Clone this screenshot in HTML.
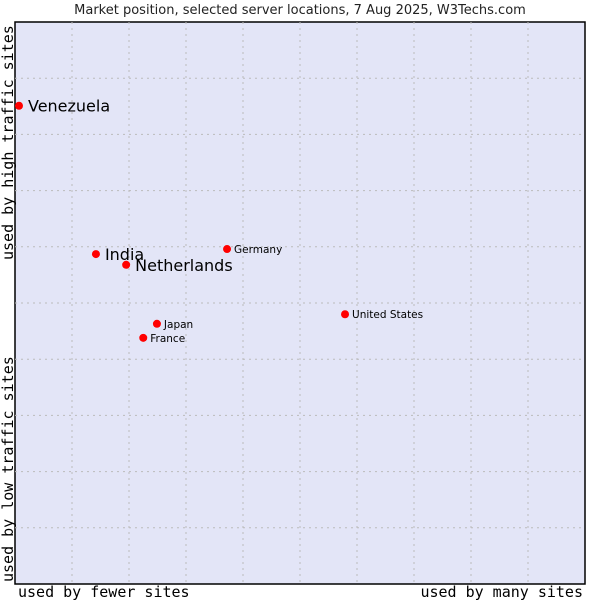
<!DOCTYPE html>
<html><head><meta charset="utf-8"><style>
body{margin:0;background:#fff;}
svg{display:block;}
</style></head><body>
<svg id="chart" width="600" height="600" xmlns="http://www.w3.org/2000/svg">
<text x="300" y="14" text-anchor="middle" font-family="DejaVu Sans, sans-serif" font-size="13" fill="#222">Market position, selected server locations, 7 Aug 2025, W3Techs.com</text>
<rect x="15" y="22" width="570" height="562" fill="#e3e5f7" stroke="#000" stroke-width="1.5"/>
<g id="grid"></g>
<g id="points"></g>
<text x="18" y="597" font-family="DejaVu Sans Mono, monospace" font-size="15" fill="#000">used by fewer sites</text>
<text x="583" y="597" text-anchor="end" font-family="DejaVu Sans Mono, monospace" font-size="15" fill="#000">used by many sites</text>
<text transform="translate(13,582) rotate(-90)" font-family="DejaVu Sans Mono, monospace" font-size="15" fill="#000">used by low traffic sites</text>
<text transform="translate(13,260) rotate(-90)" font-family="DejaVu Sans Mono, monospace" font-size="15" fill="#000">used by high traffic sites</text>
</svg>
<script>
const names = ["Venezuela","India","Netherlands","Germany","Japan","France","United States"];
const xValues = [0.7,14.2,19.5,37.2,24.9,22.5,57.9];
const yValues = [85.1,58.7,56.8,59.6,46.3,43.8,48.0];
const highlighted = [true,true,true,false,false,false,false];
const NS="http://www.w3.org/2000/svg";
const L=15,T=22,W=570,H=562;
function sx(v){return L+v/100*W;}
function sy(v){return T+H-v/100*H;}
const grid=document.getElementById('grid');
for(let i=1;i<10;i++){
  const vx=document.createElementNS(NS,'line');
  
  
  const x=L+i*W/10;
  vx.setAttribute('x1',x);vx.setAttribute('x2',x);vx.setAttribute('y1',T);vx.setAttribute('y2',T+H);
  vx.setAttribute('stroke','#bbb');vx.setAttribute('stroke-dasharray','2,4');
  grid.appendChild(vx);
  const hy=document.createElementNS(NS,'line');
  
  
  const y=T+i*H/10;
  hy.setAttribute('x1',L);hy.setAttribute('x2',L+W);hy.setAttribute('y1',y);hy.setAttribute('y2',y);
  hy.setAttribute('stroke','#bbb');hy.setAttribute('stroke-dasharray','2,4');
  grid.appendChild(hy);
}
const pts=document.getElementById('points');
names.forEach((n,i)=>{
  const x=sx(xValues[i]),y=sy(yValues[i]);
  const c=document.createElementNS(NS,'circle');
  
  
  c.setAttribute('cx',x);c.setAttribute('cy',y);c.setAttribute('r',4);c.setAttribute('fill','#f00');
  pts.appendChild(c);
  const t=document.createElementNS(NS,'text');
  
  
  const big=highlighted[i];
  t.setAttribute('x',x+(big?9:7));t.setAttribute('y',y+(big?6:4));
  t.setAttribute('font-family','DejaVu Sans, sans-serif');
  t.setAttribute('font-size',big?16:10.5);t.setAttribute('fill','#000');
  t.textContent=n;
  pts.appendChild(t);
});
</script>
</body></html>
